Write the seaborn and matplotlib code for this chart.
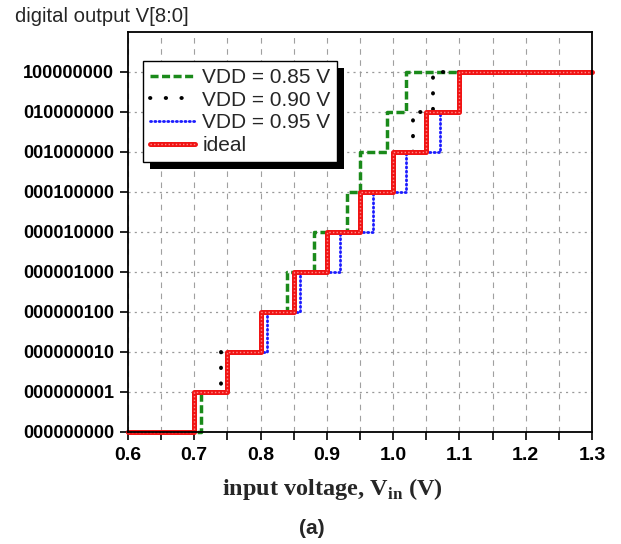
import matplotlib
matplotlib.use("Agg")
import matplotlib.pyplot as plt
import seaborn as sns
import pandas as pd
from matplotlib.patches import Rectangle
from matplotlib.ticker import MultipleLocator, FormatStrFormatter

# ---- data ----
codes = ["000000000", "000000001", "000000010", "000000100", "000001000",
         "000010000", "000100000", "001000000", "010000000", "100000000"]
levels = list(range(10))
# input voltage at which output steps up to the next code (V)
v_ideal = [0.70, 0.75, 0.80, 0.85, 0.90, 0.95, 1.00, 1.05, 1.10]
v_085 = [0.71, 0.75, 0.80, 0.84, 0.88, 0.93, 0.95, 0.99, 1.02]
v_090 = [0.70, 0.74, 0.80, 0.85, 0.90, 0.95, 1.00, 1.03, 1.06]
v_095 = [0.70, 0.75, 0.81, 0.86, 0.92, 0.97, 1.02, 1.07, 1.10]
v_start, v_end = 0.6, 1.3
labels = ["VDD = 0.85 V", "VDD = 0.90 V", "VDD = 0.95 V", "ideal"]

sns.set_style("ticks")
plt.rcParams['font.family'] = ['Liberation Sans', 'DejaVu Sans']
plt.rcParams['lines.scale_dashes'] = False
plt.rcParams['mathtext.fontset'] = 'custom'
plt.rcParams['mathtext.bf'] = 'Liberation Serif:bold'
plt.rcParams['mathtext.rm'] = 'Liberation Serif:bold'

fig = plt.figure(figsize=(6.21, 5.44), dpi=100)
ax = fig.add_axes([128 / 621, 1 - 432 / 544, (592 - 128) / 621, 400 / 544])


def step_df(tr):
    return pd.DataFrame({"v": [v_start] + tr + [v_end],
                         "code": levels + [levels[-1]]})


def draw(tr, **kw):
    n0 = len(ax.lines)
    sns.lineplot(data=step_df(tr), x="v", y="code", drawstyle="steps-post",
                 estimator=None, sort=False, ax=ax, legend=False, **kw)
    ln = ax.lines[n0]
    ln.set_clip_on(False)
    return ln


l85 = draw(v_085, color="#1a8a1a", lw=2.5, linestyle=(0, (5.8, 2.5)))
l90 = draw(v_090, color="black", lw=2.8, linestyle=(0, (0.3, 11)))
l95 = draw(v_095, color="#1a1aff", lw=2.0, linestyle=(0, (0.8, 2.3)))
lid = draw(v_ideal, color="#f01414", lw=3.6, linestyle="-")
lid2 = draw(v_ideal, color="#ff8c8c", lw=1.0, linestyle=(0, (1.0, 1.6)))
for ln in (l90, l95):
    ln.set_dash_capstyle("round")

ax.set_xlim(v_start, v_end)
ax.set_ylim(0, 10)
ax.set_yticks(levels)
ax.set_yticklabels(codes, fontweight="bold", fontsize=13)
ax.xaxis.set_major_locator(MultipleLocator(0.1))
ax.xaxis.set_minor_locator(MultipleLocator(0.05))
ax.xaxis.set_major_formatter(FormatStrFormatter("%.1f"))
for t in ax.get_xticklabels():
    t.set_fontweight("bold")
    t.set_fontsize(14)
ax.tick_params(axis="both", which="both", direction="out", length=6,
               width=1.2, colors="black")
ax.tick_params(axis="x", which="major", pad=5)
ax.tick_params(axis="y", which="major", pad=4)
ax.set_xlabel("")
ax.set_ylabel("")
for s in ax.spines.values():
    s.set_visible(True)
    s.set_linewidth(1.3)
    s.set_color("black")

ax.set_axisbelow(True)
ax.grid(axis="x", which="both", color="#a0a0a0", linestyle=(0, (4, 4)), lw=0.8)
ax.grid(axis="y", which="major", color="#999999", linestyle=(0, (1.5, 3)), lw=0.9)

leg = ax.legend([l85, l90, l95, (lid, lid2)], labels, loc="upper left",
                bbox_to_anchor=(15 / 464, 1 - 29 / 400), borderaxespad=0,
                fontsize=15, frameon=True, fancybox=False, framealpha=1,
                edgecolor="black", handlelength=2.15, handletextpad=0.36,
                labelspacing=0.18, borderpad=0.33)
leg.get_frame().set_linewidth(1.0)
leg.set_zorder(6)

fig.canvas.draw()
bb = leg.get_window_extent().transformed(ax.transAxes.inverted())
dx, dy = 7 / 464, 7 / 400
ax.add_patch(Rectangle((bb.x0 + dx, bb.y0 - dy), bb.width, bb.height,
                       transform=ax.transAxes, facecolor="black",
                       edgecolor="none", zorder=5.9, clip_on=False))

fig.text(15 / 621, 1 - 7 / 544, "digital output V[8:0]", ha="left", va="top",
         fontsize=14.6)
fig.text(332 / 621, 1 - 489 / 544, r"input voltage, V$_{\mathbf{in}}$ (V)",
         ha="center", va="center", fontfamily="Liberation Serif",
         fontweight="bold", fontsize=17.5)
fig.text(312 / 621, 1 - 529 / 544, "(a)", ha="center", va="center",
         fontweight="bold", fontsize=15)

fig.savefig("out.png", dpi=100)
